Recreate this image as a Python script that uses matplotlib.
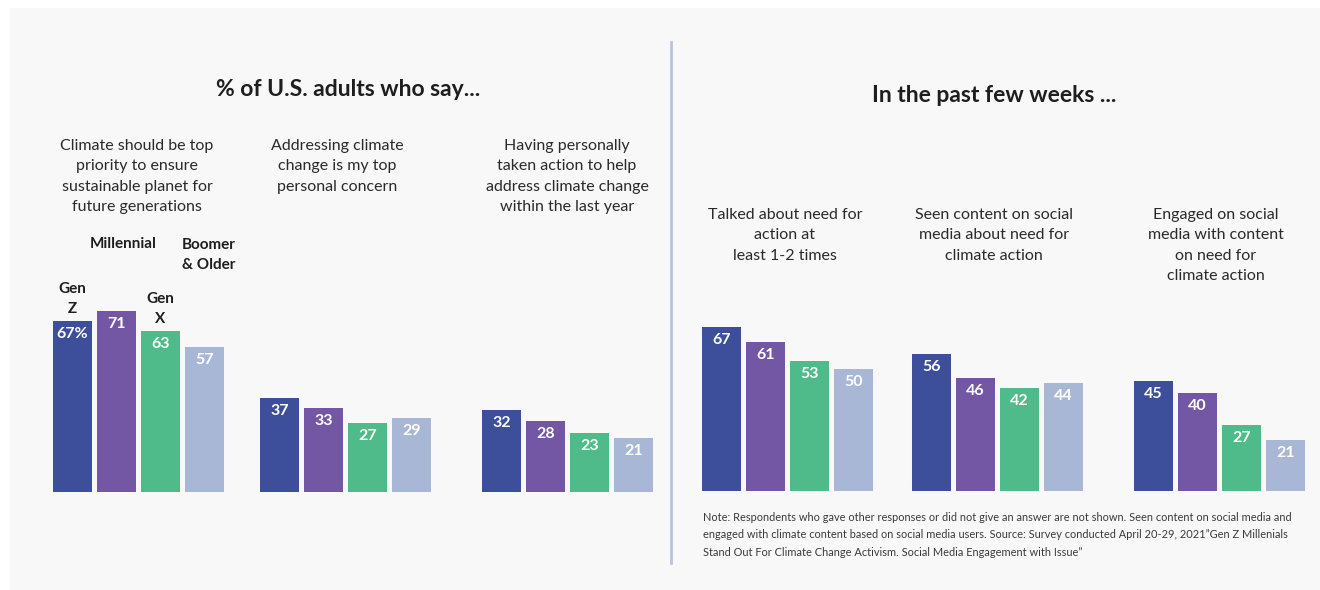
import matplotlib.pyplot as plt
from matplotlib.patches import Rectangle

W, H = 1320, 590

generations = ["Gen Z", "Millennial", "Gen X", "Boomer & Older"]
colors = ["#3d4e9b", "#7357a5", "#4fbb8b", "#a9b7d6"]

left_titles = [
    "Climate should be top\npriority to ensure\nsustainable planet for\nfuture generations",
    "Addressing climate\nchange is my top\npersonal concern",
    "Having personally\ntaken action to help\naddress climate change\nwithin the last year",
]
left_values = [
    [67, 71, 63, 57],
    [37, 33, 27, 29],
    [32, 28, 23, 21],
]

right_titles = [
    "Talked about need for\naction at\nleast 1-2 times",
    "Seen content on social\nmedia about need for\nclimate action",
    "Engaged on social\nmedia with content\non need for\nclimate action",
]
right_values = [
    [67, 61, 53, 50],
    [56, 46, 42, 44],
    [45, 40, 27, 21],
]

note = ("Note: Respondents who gave other responses or did not give an answer are not shown. Seen content on social media and\n"
        "engaged with climate content based on social media users. Source: Survey conducted April 20-29, 2021\u201dGen Z Millenials\n"
        "Stand Out For Climate Change Activism. Social Media Engagement with Issue\u201d")

FONT = ["Lato", "DejaVu Sans"]
plt.rcParams["font.family"] = FONT

BAR_W = 39
BAR_STEP = 44


def fx(px):
    return px / W


def fy(py):
    return 1 - py / H


def draw_group(fig, x0, baseline, values, scale, first_pct=False):
    width_px = BAR_STEP * 3 + BAR_W
    top_px = 280
    ax = fig.add_axes([fx(x0), fy(baseline), width_px / W, (baseline - top_px) / H])
    ax.set_xlim(0, width_px)
    ax.set_ylim(0, (baseline - top_px) / scale)
    ax.axis("off")
    for i, v in enumerate(values):
        ax.bar(i * BAR_STEP, v, width=BAR_W, align="edge", color=colors[i])
        label = f"{v}%" if (first_pct and i == 0) else f"{v}"
        ax.text(i * BAR_STEP + BAR_W / 2, v - 13 / scale, label,
                ha="center", va="center", color="white", fontsize=11.5,
                fontweight="bold")
    return ax


fig = plt.figure(figsize=(W / 100, H / 100), dpi=100)
fig.patch.set_facecolor("white")
fig.add_artist(Rectangle((fx(10), 0), 1 - fx(10), fy(8), transform=fig.transFigure,
                         facecolor="#f8f8f8", edgecolor="none", zorder=-1))

# divider
fig.add_artist(plt.Line2D([fx(671), fx(671)], [fy(42), fy(563)], color="#b9c4df",
                          lw=2, transform=fig.transFigure))

# headers
fig.text(fx(348), fy(90), "% of U.S. adults who say...", ha="center", va="center",
         fontsize=16.5, fontweight="bold", color="#1e1e1e")
fig.text(fx(994), fy(96), "In the past few weeks ...", ha="center", va="center",
         fontsize=16.5, fontweight="bold", color="#1e1e1e")

left_x = [53, 260, 482]
left_text_x = [137, 337, 567]
for x0, tx, title, vals in zip(left_x, left_text_x, left_titles, left_values):
    draw_group(fig, x0, 492, vals, 2.55, first_pct=(x0 == left_x[0]))
    fig.text(fx(tx), fy(139), title, ha="center", va="top", fontsize=11.5,
             color="#2a2a2a", linespacing=1.58)

right_x = [702, 912, 1134]
right_text_x = [785, 994, 1216]
for x0, tx, title, vals in zip(right_x, right_text_x, right_titles, right_values):
    draw_group(fig, x0, 491, vals, 2.45)
    fig.text(fx(tx), fy(208), title, ha="center", va="top", fontsize=11.5,
             color="#2a2a2a", linespacing=1.58)

# generation labels
lab_kw = dict(fontsize=11, fontweight="bold", color="#1e1e1e", linespacing=1.6)
fig.text(fx(72), fy(299), "Gen\nZ", ha="center", va="center", **lab_kw)
fig.text(fx(123), fy(244), "Millennial", ha="center", va="center", **lab_kw)
fig.text(fx(160), fy(309), "Gen\nX", ha="center", va="center", **lab_kw)
fig.text(fx(182), fy(255), "Boomer\n& Older", ha="left", va="center", **lab_kw)

fig.text(fx(703), fy(512), note, ha="left", va="top", fontsize=7.9,
         color="#3a3a3a", linespacing=1.7)

fig.savefig("out.png", dpi=100, facecolor=fig.get_facecolor())
